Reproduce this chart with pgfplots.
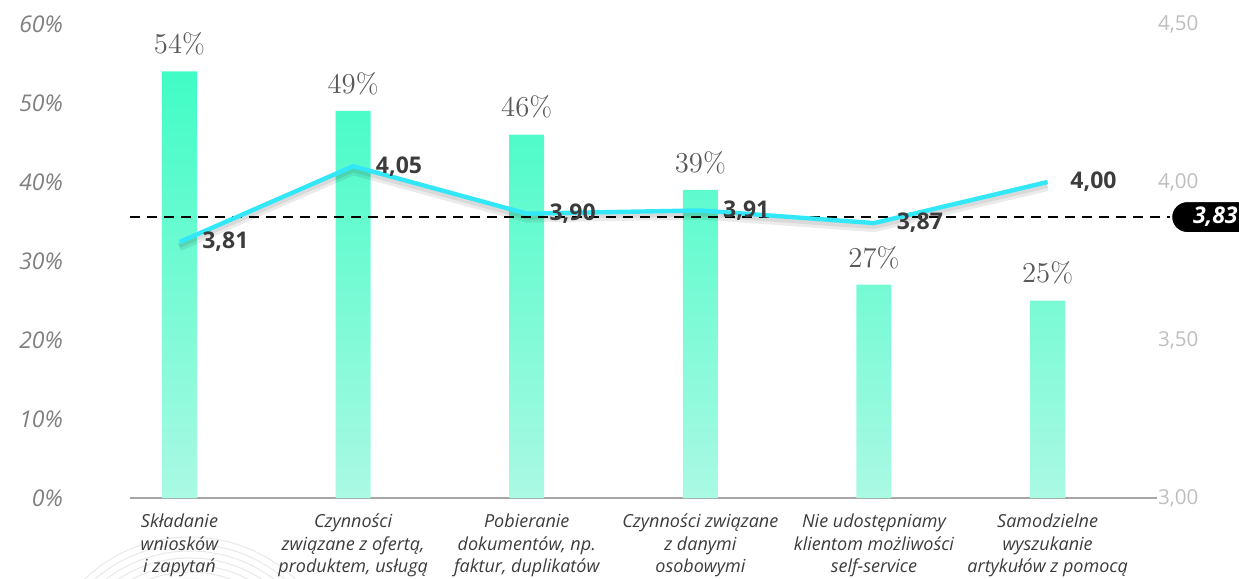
\documentclass[border=0pt]{standalone}
\usepackage{pgfplots}
\pgfplotsset{compat=1.18}
\usepackage{fontspec}
\newfontfamily\os{Open Sans}
\definecolor{bartop}{RGB}{64,252,197}
\definecolor{barbot}{RGB}{170,249,227}
\definecolor{linec}{RGB}{50,232,248}
\definecolor{ticklab}{RGB}{128,128,128}
\definecolor{rticklab}{RGB}{190,190,190}
\definecolor{dark}{RGB}{60,60,60}
\begin{document}
\begin{tikzpicture}
% decorative arcs
\begin{scope}
\clip (-65pt,-40.5pt) rectangle (554.5pt,249pt);
\foreach \r in {76.5,73,69.5,66,62.5,59,55.5}{
  \draw[gray!18, line width=0.5pt] (30pt,-96pt) circle (\r pt);
}
\end{scope}
\begin{axis}[
  at={(0,0)}, anchor=south west,
  scale only axis, width=513.5pt, height=237pt,
  xmin=-0.285, xmax=5.63, ymin=0, ymax=60,
  axis y line*=left, axis x line*=bottom,
  y axis line style={draw=none},
  x axis line style={draw=gray!70, line width=0.6pt, -},
  major tick length=0pt,
  xtick={0,1,2,3,4,5},
  xticklabels={{Składanie\\wniosków\\i zapytań},{Czynności\\związane z ofertą,\\produktem, usługą},{Pobieranie\\dokumentów, np.\\faktur, duplikatów},{Czynności związane\\z danymi\\osobowymi},{Nie udostępniamy\\klientom możliwości\\self-service},{Samodzielne\\wyszukanie\\artykułów z pomocą}},
  xticklabel style={align=center, font=\os\itshape\fontsize{9}{11.2}\selectfont, text=dark, yshift=-4.5pt},
  ytick={0,10,20,30,40,50,60},
  yticklabels={0\%,10\%,20\%,30\%,40\%,50\%,60\%},
  yticklabel style={anchor=east, xshift=-30pt, font=\os\itshape\fontsize{11.5}{13}\selectfont, text=ticklab},
  clip=false,
]
\addplot[ybar, bar width=17.5pt, draw=none, top color=bartop, middle color=bartop, bottom color=barbot,
  nodes near coords={\pgfmathprintnumber{\pgfplotspointmeta}\%},
  nodes near coords style={anchor=south, yshift=4.5pt, text=dark!85, font=\fontsize{14}{16}\selectfont}]
coordinates {(0,54) (1,49) (2,46) (3,39) (4,27) (5,25)};
\end{axis}
\begin{axis}[
  at={(0,0)}, anchor=south west,
  scale only axis, width=513.5pt, height=237pt,
  xmin=-0.285, xmax=5.63, ymin=3, ymax=4.5,
  axis y line*=right, axis x line=none,
  y axis line style={draw=none},
  major tick length=0pt,
  ytick={3,3.5,4,4.5},
  yticklabels={{3,00},{3,50},{4,00},{4,50}},
  yticklabel style={anchor=west, xshift=-3pt, font=\os\fontsize{10.3}{12}\selectfont, text=rticklab},
  clip=false,
]
% reference dashed line
\addplot[black, line width=1.25pt, dash pattern=on 5pt off 3.5pt] coordinates {(-0.285,3.889) (5.706,3.889)};
% shadow
\addplot[black, opacity=0.08, line width=4pt, transform canvas={yshift=-2.5pt}] coordinates {(0,3.81) (1,4.05) (2,3.90) (3,3.91) (4,3.87) (5,4.00)};
\addplot[black, opacity=0.08, line width=2pt, transform canvas={yshift=-2pt}] coordinates {(0,3.81) (1,4.05) (2,3.90) (3,3.91) (4,3.87) (5,4.00)};
\addplot[linec, line width=2.2pt,
  nodes near coords={\pgfmathprintnumber[fixed,fixed zerofill,precision=2,use comma,assume math mode=true]{\pgfplotspointmeta}},
  point meta=y,
  nodes near coords style={anchor=west, xshift=7pt, text=dark, font=\os\bfseries\fontsize{11.5}{13}\selectfont}]
coordinates {(0,3.81) (1,4.05) (2,3.90) (3,3.91) (4,3.87) (5,4.00)};
\node[anchor=west, fill=black, draw=white, line width=1pt, rounded corners=8pt, minimum height=16pt, inner xsep=11pt, inner ysep=0pt, text=white, font=\os\bfseries\itshape\fontsize{11.5}{13}\selectfont] at (axis cs:5.706,3.889) {3,83\hspace{10pt}};
\end{axis}
\pgfresetboundingbox
\useasboundingbox (-65pt,-40.5pt) rectangle (554.5pt,249pt);
\end{tikzpicture}
\end{document}
